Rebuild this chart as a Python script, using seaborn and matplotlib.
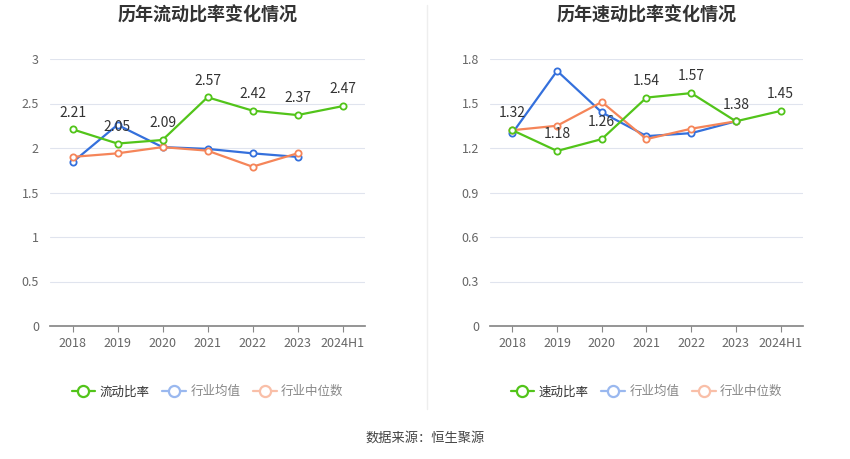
import matplotlib
matplotlib.use("Agg")
import matplotlib.pyplot as plt
import seaborn as sns
import pandas as pd
from matplotlib.lines import Line2D

years = ["2018", "2019", "2020", "2021", "2022", "2023", "2024H1"]
current_ratio = [2.21, 2.05, 2.09, 2.57, 2.42, 2.37, 2.47]
current_mean = [1.84, 2.26, 2.01, 1.99, 1.94, 1.90]
current_median = [1.90, 1.94, 2.01, 1.97, 1.79, 1.94]
quick_ratio = [1.32, 1.18, 1.26, 1.54, 1.57, 1.38, 1.45]
quick_mean = [1.30, 1.72, 1.44, 1.28, 1.30, 1.38]
quick_median = [1.32, 1.35, 1.51, 1.26, 1.33, 1.38]

sns.set_theme(style="white")
plt.rcParams['font.family'] = ['Noto Sans CJK SC', 'DejaVu Sans']

GREEN = "#52c41a"
BLUE = "#3470dc"
ORANGE = "#f58559"
BLUE_L = "#9ab8ef"
ORANGE_L = "#f9bfa8"

fig = plt.figure(figsize=(8.5, 4.59), dpi=100)
ax1 = fig.add_axes([50/850, 133/459, 315/850, 267/459])
ax2 = fig.add_axes([490/850, 133/459, 313/850, 267/459])

def draw(ax, main, mean, median, main_name, title, ymax, step):
    rows = []
    for i, v in enumerate(mean):
        rows.append(dict(x=i, y=v, s="mean"))
    for i, v in enumerate(median):
        rows.append(dict(x=i, y=v, s="median"))
    for i, v in enumerate(main):
        rows.append(dict(x=i, y=v, s="main"))
    df = pd.DataFrame(rows)
    pal = {"main": GREEN, "mean": BLUE, "median": ORANGE}
    for key in ["mean", "median", "main"]:
        sub = df[df.s == key]
        sns.lineplot(data=sub, x="x", y="y", ax=ax, color=pal[key], lw=1.6,
                     marker="o", markersize=4.5, markerfacecolor="white",
                     markeredgecolor=pal[key], markeredgewidth=1.3, legend=False)
    for i, v in enumerate(main):
        ax.annotate(f"{v:.2f}", (i, v), xytext=(0, 7), textcoords="offset points",
                    ha="center", va="bottom", fontsize=10, color="#333333")
    ax.set_xlim(-0.5, len(years) - 0.5)
    ax.set_ylim(0, ymax)
    ticks = [round(step * k, 2) for k in range(int(round(ymax / step)) + 1)]
    ax.set_yticks(ticks)
    ax.set_yticklabels([f"{t:g}" for t in ticks])
    ax.set_xticks(range(len(years)))
    ax.set_xticklabels(years)
    ax.set_xlabel("")
    ax.set_ylabel("")
    ax.grid(axis="y", color="#e0e4ee", lw=0.8)
    ax.set_axisbelow(True)
    for sp in ["top", "right", "left"]:
        ax.spines[sp].set_visible(False)
    ax.spines["bottom"].set_color("#888888")
    ax.tick_params(axis="x", colors="#888888", labelsize=9, length=4, width=0.8, bottom=True, pad=4)
    ax.tick_params(axis="y", colors="#888888", labelsize=9, length=0, pad=8)
    for lbl in ax.get_xticklabels() + ax.get_yticklabels():
        lbl.set_color("#666666")
    ax.set_title(title, fontsize=13, fontweight="bold", color="#333333", pad=28)
    handles = [
        Line2D([], [], color=GREEN, lw=1.6, marker="o", markersize=8, markerfacecolor="white", markeredgewidth=1.6),
        Line2D([], [], color=BLUE_L, lw=1.6, marker="o", markersize=8, markerfacecolor="white", markeredgewidth=1.6),
        Line2D([], [], color=ORANGE_L, lw=1.6, marker="o", markersize=8, markerfacecolor="white", markeredgewidth=1.6),
    ]
    leg = ax.legend(handles, [main_name, "行业均值", "行业中位数"], loc="upper center",
                    bbox_to_anchor=(0.5, -0.18), ncol=3, frameon=False, fontsize=9,
                    handlelength=1.9, columnspacing=1.0, handletextpad=0.35)
    cols = ["#333333", "#888888", "#888888"]
    for t, c in zip(leg.get_texts(), cols):
        t.set_color(c)

draw(ax1, current_ratio, current_mean, current_median, "流动比率", "历年流动比率变化情况", 3, 0.5)
draw(ax2, quick_ratio, quick_mean, quick_median, "速动比率", "历年速动比率变化情况", 1.8, 0.3)

fig.add_artist(Line2D([427/850, 427/850], [50/459, 1 - 5/459], color="#eeeeee", lw=1))
fig.text(0.5, 1 - 438/459, "数据来源：恒生聚源", ha="center", va="center", fontsize=9.5, color="#444444")

fig.savefig("out.png", dpi=100)
